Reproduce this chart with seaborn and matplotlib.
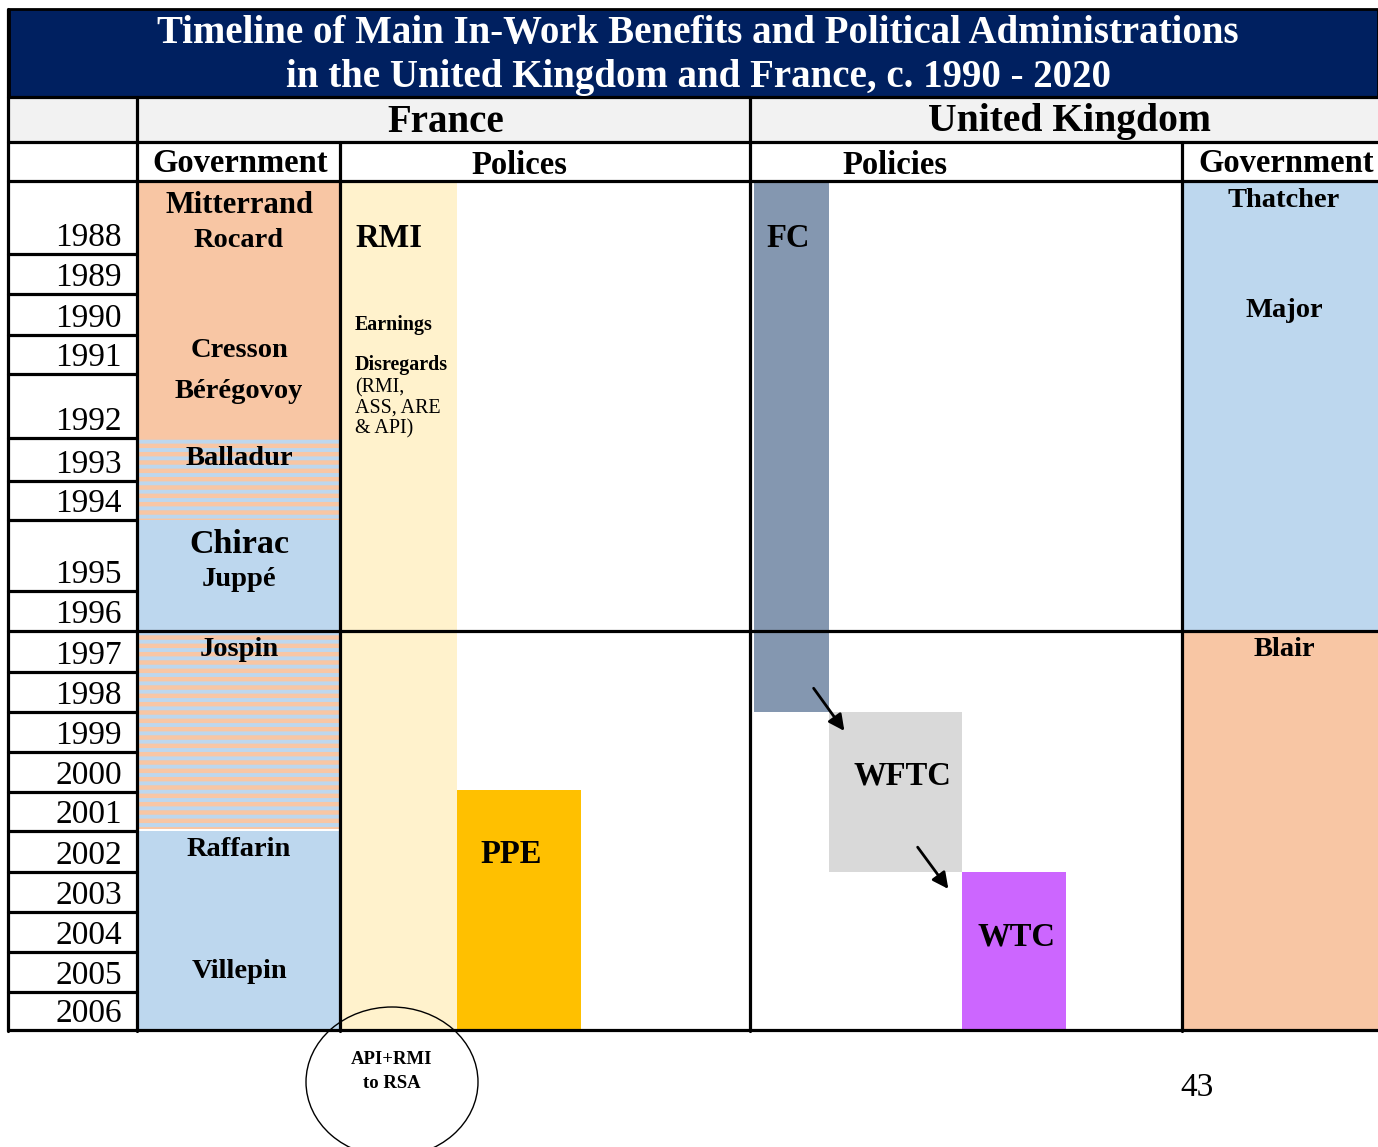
import numpy as np
import matplotlib.pyplot as plt
import seaborn as sns
from matplotlib.patches import Ellipse

sns.set_theme(style="white")
plt.rcParams['font.family'] = ['Liberation Serif', 'DejaVu Serif']
plt.rcParams['text.color'] = 'black'
plt.rcParams['hatch.linewidth'] = 3.2

# data
years = list(range(1988, 2007))

fr_gov_start = [1988, 1993, 1995, 1997, 2002]
fr_gov_end = [1993, 1995, 1997, 2002, 2007]
fr_gov_kind = ["left", "cohab", "right", "cohab", "right"]

fr_pm = ["Mitterrand", "Rocard", "Cresson", "Bérégovoy", "Balladur",
         "Chirac", "Juppé", "Jospin", "Raffarin", "Villepin"]
fr_pm_at = [1988.3, 1988.77, 1991.33, 1992.23, 1993.4,
            1995.3, 1995.79, 1997.39, 2002.37, 2005.4]
fr_pm_size = [22, 20.5, 20.5, 20.5, 20.5, 24.5, 20.5, 20.5, 20.5, 20.5]

uk_gov_start = [1988, 1997]
uk_gov_end = [1997, 2007]
uk_gov_kind = ["right", "left"]
uk_pm = ["Thatcher", "Major", "Blair"]
uk_pm_at = [1988.22, 1990.34, 1997.39]

policies = ["RMI", "PPE", "FC", "WFTC", "WTC"]
pol_start = [1988, 2001, 1988, 1999, 2003]
pol_end = [2007, 2007, 1999, 2003, 2007]
pol_label_at = [1988.75, 2002.5, 1988.75, 2000.53, 2004.55]
pol_colors = ["#fff2cc", "#ffc000", "#8497b0", "#d9d9d9", "#cc66ff"]

# layout (pixels) - the table rows are not all the same height
row_edges = [181, 254, 294, 335, 374, 438, 481, 520, 591, 631, 672,
             712, 752, 792, 831, 872, 912, 952, 992, 1030]
pol_left = [342, 457, 754, 829, 962]
pol_width = [115, 124, 75, 133, 104]
pol_text_x = [355, 480, 766, 853, 977]

peach = "#f8c6a4"
blue = "#bdd7ee"
navy = "#002060"
dy = 3  # small nudge so labels sit like in the original


def ty(v):
    return np.interp(v, years + [2007], row_edges)


fig = plt.figure(figsize=(13.78, 11.47), dpi=100)
ax = fig.add_axes([0, 0, 1, 1])
ax.set_xlim(0, 1378)
ax.set_ylim(1147, 0)
ax.axis("off")

# title band and header rows
ax.bar(9, 88, bottom=9, width=1369, align="edge", color=navy, edgecolor="black", linewidth=2)
ax.bar(9, 45, bottom=97, width=1369, align="edge", color="#f2f2f2", linewidth=0)
ax.text(698, 34, "Timeline of Main In-Work Benefits and Political Administrations",
        color="white", fontsize=28, fontweight="bold", ha="center", va="center")
ax.text(698, 78, "in the United Kingdom and France, c. 1990 - 2020",
        color="white", fontsize=28, fontweight="bold", ha="center", va="center")
ax.text(446, 122, "France", fontsize=28, fontweight="bold", ha="center", va="center")
ax.text(1069, 122, "United Kingdom", fontsize=28.5, fontweight="bold", ha="center", va="center")
ax.text(240, 163, "Government", fontsize=23.5, fontweight="bold", ha="center", va="center")
ax.text(519, 165, "Polices", fontsize=23.5, fontweight="bold", ha="center", va="center")
ax.text(895, 165, "Policies", fontsize=23.5, fontweight="bold", ha="center", va="center")
ax.text(1286, 163, "Government", fontsize=23.5, fontweight="bold", ha="center", va="center")

# French governments
for s, e, k in zip(fr_gov_start, fr_gov_end, fr_gov_kind):
    y0, y1 = ty(s), ty(e)
    if e == 2002:
        y1 -= 2
    if k == "cohab":
        ax.bar(139, y1 - y0, bottom=y0, width=200, align="edge", color=blue,
               hatch="--", edgecolor=peach, linewidth=0)
    else:
        ax.bar(139, y1 - y0, bottom=y0, width=200, align="edge",
               color=peach if k == "left" else blue, linewidth=0)
for name, at, fs in zip(fr_pm, fr_pm_at, fr_pm_size):
    ax.text(239, ty(at) + dy, name, fontsize=fs, fontweight="bold", ha="center", va="center")

# UK governments
for s, e, k in zip(uk_gov_start, uk_gov_end, uk_gov_kind):
    y0, y1 = ty(s), ty(e)
    ax.bar(1184, y1 - y0, bottom=y0, width=194, align="edge",
           color=peach if k == "left" else blue, linewidth=0)
for name, at in zip(uk_pm, uk_pm_at):
    ax.text(1284, ty(at) + dy, name, fontsize=20.5, fontweight="bold", ha="center", va="center")

# policies
for name, s, e, c, x, w, tx, at in zip(policies, pol_start, pol_end, pol_colors,
                                        pol_left, pol_width, pol_text_x, pol_label_at):
    y0, y1 = ty(s), ty(e)
    if name == "PPE":
        y0 -= 2
    ax.bar(x, y1 - y0, bottom=y0, width=w, align="edge", color=c, linewidth=0)
    ax.text(tx, ty(at) + dy, name, fontsize=23.5, fontweight="bold", ha="left", va="center")

ax.text(355, ty(1990.68) + dy, "Earnings", fontsize=14.4, fontweight="bold", ha="left", va="center")
ax.text(355, ty(1991.69) + dy, "Disregards", fontsize=14.4, fontweight="bold", ha="left", va="center")
ax.text(355, ty(1992.5) + 2, "(RMI,\nASS, ARE\n& API)", fontsize=14.4, ha="left", va="center",
        linespacing=1.1)

# arrows FC -> WFTC -> WTC
ax.annotate("", xy=(846, ty(1999.53)), xytext=(812, ty(1998.35)),
            arrowprops=dict(arrowstyle="-|>", color="black", lw=2, mutation_scale=24))
ax.annotate("", xy=(950, ty(2003.48)), xytext=(916, ty(2002.34)),
            arrowprops=dict(arrowstyle="-|>", color="black", lw=2, mutation_scale=24))

# grid lines
lw = 2.3
for y in row_edges:
    if y in (181, 631, 1030):
        ax.plot([8, 1378], [y, y], color="black", lw=lw)
    else:
        ax.plot([8, 137], [y, y], color="black", lw=lw)
for yr, y in zip(years, row_edges[1:]):
    ax.text(122, y - 1, str(yr), fontsize=24, ha="right", va="bottom")
ax.plot([8, 1378], [97, 97], color="black", lw=lw)
ax.plot([8, 1378], [142, 142], color="black", lw=lw)
ax.plot([8, 8], [9, 1031], color="black", lw=lw)
ax.plot([137, 137], [97, 1031], color="black", lw=lw)
ax.plot([340, 340], [142, 1031], color="black", lw=lw)
ax.plot([750, 750], [97, 1031], color="black", lw=lw)
ax.plot([1182, 1182], [142, 1031], color="black", lw=lw)

# note below the table
ax.add_patch(Ellipse((392, 1082), 172, 150, fill=False, edgecolor="black", lw=1))
ax.text(392, 1060, "API+RMI", fontsize=13.5, fontweight="bold", ha="center", va="center")
ax.text(392, 1084, "to RSA", fontsize=13.5, fontweight="bold", ha="center", va="center")
ax.text(1197, 1088, "43", fontsize=24, ha="center", va="center")

fig.savefig("out.png", dpi=100)
